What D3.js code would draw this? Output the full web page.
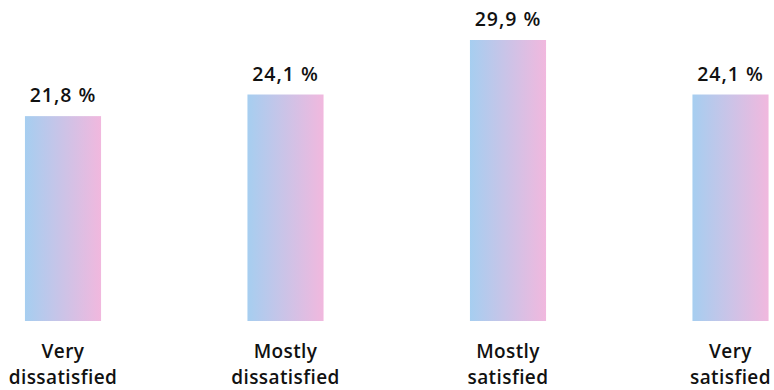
<!DOCTYPE html>
<html><head><meta charset="utf-8">
<script src="https://cdn.jsdelivr.net/npm/d3@7"></script>
<style>html,body{margin:0;padding:0;background:#fff;}svg{display:block;}</style>
</head><body>
<svg id="chart" width="774" height="390"></svg>
<script>
const categories = [["Very","dissatisfied"],["Mostly","dissatisfied"],["Mostly","satisfied"],["Very","satisfied"]];
const values = [21.8, 24.1, 29.9, 24.1];
const valueLabels = ["21,8 %","24,1 %","29,9 %","24,1 %"];

const svg = d3.select("#chart");
const font = "'Open Sans', sans-serif";
const keys = categories.map(c => c.join(" "));
const x = d3.scaleBand().domain(keys).range([-48.25, 841.75]).paddingInner(0.658).paddingOuter(0.329);
const y = d3.scaleLinear().domain([0, 29.9]).range([321, 40]);

const defs = svg.append("defs");
const g = defs.append("linearGradient").attr("id","grad").attr("x1","0%").attr("x2","100%").attr("y1","0%").attr("y2","0%");
g.append("stop").attr("offset","0%").attr("stop-color","#a6cef0");
g.append("stop").attr("offset","100%").attr("stop-color","#f1b8de");

svg.selectAll("rect.bar").data(values).enter().append("rect")
  .attr("class","bar")
  .attr("x",(d,i)=>x(keys[i]))
  .attr("width",x.bandwidth())
  .attr("y",d=>y(d))
  .attr("height",d=>y(0)-y(d))
  .attr("fill","url(#grad)");

svg.selectAll("text.val").data(values).enter().append("text")
  .attr("class","val")
  .attr("x",(d,i)=>x(keys[i])+x.bandwidth()/2)
  .attr("y",d=>y(d)-14)
  .attr("text-anchor","middle")
  .attr("font-family",font).attr("font-weight",600).attr("font-size","19.5px")
  .attr("letter-spacing","1px")
  .attr("fill","#111")
  .text((d,i)=>valueLabels[i]);

const cat = svg.selectAll("text.cat").data(categories).enter().append("text")
  .attr("class","cat")
  .attr("text-anchor","middle")
  .attr("font-family",font).attr("font-weight",600).attr("font-size","19px")
  .attr("letter-spacing","0.4px")
  .attr("fill","#111");
cat.each(function(d,i){
  const t = d3.select(this);
  const cx = x(keys[i])+x.bandwidth()/2;
  d.forEach((line,j)=>{
    t.append("tspan").attr("x",cx).attr("y",358+j*26).text(line);
  });
});
</script>
</body></html>
